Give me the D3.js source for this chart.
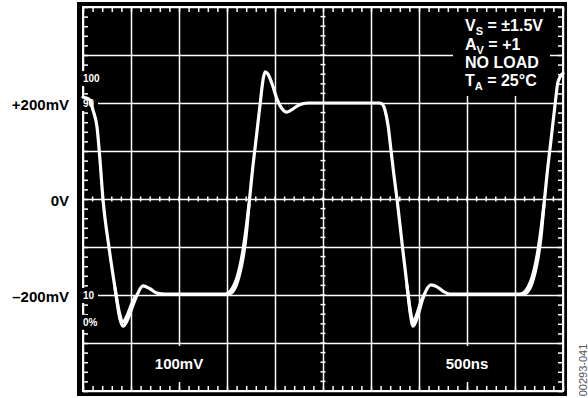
<!DOCTYPE html>
<html>
<head>
<meta charset="utf-8">
<script src="https://cdn.jsdelivr.net/npm/d3@7"></script>
<style>
  html, body { margin: 0; padding: 0; background: #fff; }
  svg { display: block; font-family: 'Liberation Sans', Arial, sans-serif; }
</style>
</head>
<body>
<svg id="chart" width="588" height="398"></svg>
<script>
// scope trace, [time ns, level mV]
const mainTrace = [
  [0, 212], [42, 210], [73, 206], [104, 185], [146, 150], [177, 81], [208, 0],
  [270, -100], [333, -185], [385, -250], [417, -265], [458, -254], [510, -227],
  [563, -200], [625, -181], [698, -187], [771, -196], [854, -198], [1510, -198],
  [1542, -196], [1594, -181], [1635, -154], [1667, -123], [1698, -79], [1729, -12],
  [1760, 50], [1802, 123], [1844, 196], [1875, 248], [1896, 265], [1927, 260],
  [1969, 240], [2021, 208], [2073, 188], [2125, 181], [2188, 188], [2250, 196],
  [2344, 200], [3083, 200], [3115, 198], [3146, 185], [3177, 154], [3208, 102],
  [3240, 48], [3271, 0], [3325, -95], [3375, -180], [3410, -240], [3438, -265],
  [3490, -242], [3542, -206], [3625, -179], [3688, -183], [3750, -192], [3823, -198],
  [4583, -198], [4615, -196], [4667, -181], [4708, -154], [4740, -123], [4771, -79],
  [4802, -12], [4833, 50], [4875, 123], [4917, 196], [4948, 244], [5000, 262]
]

// persistence traces that thicken the edges
const riseGhost1 = [
  [1495, -198], [1525, -194], [1565, -183], [1607, -162], [1640, -135],
  [1670, -102], [1700, -60], [1729, -12]
]
const riseGhost2 = [
  [4568, -198], [4598, -194], [4638, -183], [4680, -162], [4713, -135],
  [4743, -102], [4773, -60], [4802, -12]
]
const dipGhost1 = [
  [333, -185], [378, -236], [417, -256], [452, -246], [500, -222], [540, -204]
]
const dipGhost2 = [
  [3375, -180], [3408, -230], [3440, -256], [3478, -240], [3520, -214], [3560, -198]
]

const yLabelValues = [200, 0, -200]
const yLabelTexts = ['+200mV', '0V', '–200mV']

const scaleLabels = [
  { t: 1000, text: '100mV' },
  { t: 4000, text: '500ns' }
]

const refMarks = [
  { v: 252, text: '100' },
  { v: 200, text: '90' },
  { v: -200, text: '10' },
  { v: -256, text: '0%' }
]

const infoLines = [
  { main: 'V', sub: 'S', rest: ' = ±1.5V' },
  { main: 'A', sub: 'V', rest: ' = +1' },
  { main: 'NO LOAD', sub: '', rest: '' },
  { main: 'T', sub: 'A', rest: ' = 25°C' }
]

const svg = d3.select('#chart')

const x = d3.scaleLinear().domain([0, 5000]).range([83, 563])
const y = d3.scaleLinear().domain([-400, 400]).range([391, 7])

const x0 = x(0)
const x1 = x(5000)
const y0 = y(400)
const y1 = y(-400)

// black screen
svg.append('rect')
  .attr('x', 77).attr('y', 2)
  .attr('width', 490).attr('height', 394)
  .attr('fill', '#000')

// major grid via axes
const gridX = svg.append('g')
  .attr('transform', `translate(0,${y0})`)
  .call(d3.axisBottom(x).ticks(10).tickSize(y1 - y0).tickFormat(''))
const gridY = svg.append('g')
  .attr('transform', `translate(${x0},0)`)
  .call(d3.axisRight(y).ticks(8).tickSize(x1 - x0).tickFormat(''))
;[gridX, gridY].forEach((g) => {
  g.select('.domain').remove()
  g.selectAll('line').attr('stroke', '#fff').attr('stroke-width', 1.5)
})

// masks behind the info block and the scale labels
svg.append('rect')
  .attr('x', 453).attr('y', 9).attr('width', 97).attr('height', 87)
  .attr('fill', '#000')

svg.selectAll('.scale-mask')
  .data(scaleLabels)
  .enter()
  .append('rect')
  .attr('class', 'scale-mask')
  .attr('x', (d) => x(d.t) - 28)
  .attr('y', 346)
  .attr('width', 56)
  .attr('height', 36)
  .attr('fill', '#000')

// frame
svg.append('rect')
  .attr('x', x0).attr('y', y0)
  .attr('width', x1 - x0).attr('height', y1 - y0)
  .attr('fill', 'none')
  .attr('stroke', '#fff')
  .attr('stroke-width', 2)

// minor ticks on the frame
const minorX = x.ticks(50)
const minorY = y.ticks(40)
const frameAxes = [
  { axis: d3.axisBottom(x).tickValues(minorX), tr: `translate(0,${y0})` },
  { axis: d3.axisTop(x).tickValues(minorX), tr: `translate(0,${y1})` },
  { axis: d3.axisRight(y).tickValues(minorY), tr: `translate(${x0},0)` },
  { axis: d3.axisLeft(y).tickValues(minorY), tr: `translate(${x1},0)` }
]
frameAxes.forEach((f) => {
  const g = svg.append('g')
    .attr('transform', f.tr)
    .call(f.axis.tickSize(5).tickFormat(''))
  g.select('.domain').remove()
  g.selectAll('line').attr('stroke', '#fff').attr('stroke-width', 1.5)
})

// minor ticks on the centre cross
const cx = x(2500)
const cy = y(0)
svg.append('g')
  .selectAll('line')
  .data(minorX)
  .enter()
  .append('line')
  .attr('x1', (d) => x(d)).attr('x2', (d) => x(d))
  .attr('y1', cy - 2.5).attr('y2', cy + 2.5)
  .attr('stroke', '#fff').attr('stroke-width', 1.5)
svg.append('g')
  .selectAll('line')
  .data(minorY)
  .enter()
  .append('line')
  .attr('y1', (d) => y(d)).attr('y2', (d) => y(d))
  .attr('x1', cx - 2.5).attr('x2', cx + 2.5)
  .attr('stroke', '#fff').attr('stroke-width', 1.5)

// scope reference marks (100 / 90 / 10 / 0%)
const marks = svg.append('g')
marks.selectAll('rect')
  .data(refMarks)
  .enter()
  .append('rect')
  .attr('x', 80)
  .attr('y', (d) => y(d.v) - 7)
  .attr('width', 18)
  .attr('height', 15)
  .attr('fill', '#000')
marks.selectAll('text')
  .data(refMarks)
  .enter()
  .append('text')
  .attr('x', 83)
  .attr('y', (d) => y(d.v) + 4)
  .attr('fill', '#fff')
  .style('font-size', '10px')
  .style('font-weight', 'bold')
  .text((d) => d.text)

// scale labels inside the screen
svg.selectAll('.scale-label')
  .data(scaleLabels)
  .enter()
  .append('text')
  .attr('class', 'scale-label')
  .attr('x', (d) => x(d.t))
  .attr('y', 369)
  .attr('text-anchor', 'middle')
  .attr('fill', '#fff')
  .style('font-size', '15px')
  .style('font-weight', 'bold')
  .text((d) => d.text)

// info block
const info = svg.append('text')
  .attr('fill', '#fff')
  .style('font-size', '16px')
  .style('font-weight', 'bold')
infoLines.forEach((l, i) => {
  const line = info.append('tspan')
    .attr('x', 465)
    .attr('y', [31, 49.5, 68, 86][i])
  line.append('tspan').text(l.main)
  if (l.sub) {
    line.append('tspan')
      .attr('dy', 4)
      .style('font-size', '11px')
      .text(l.sub)
    line.append('tspan').attr('dy', -4).text(l.rest)
  }
})

// y labels outside the screen
svg.selectAll('.y-label')
  .data(yLabelValues)
  .enter()
  .append('text')
  .attr('class', 'y-label')
  .attr('x', 69)
  .attr('y', (d) => y(d) + 7)
  .attr('text-anchor', 'end')
  .attr('fill', '#000')
  .style('font-size', '15px')
  .style('font-weight', 'bold')
  .text((d, i) => yLabelTexts[i])

// figure id
svg.append('text')
  .attr('transform', 'translate(587,370) rotate(-90)')
  .attr('text-anchor', 'middle')
  .attr('fill', '#555')
  .style('font-size', '11px')
  .text('00293-041')

// waveform
const line = d3.line()
  .x((d) => x(d[0]))
  .y((d) => y(d[1]))
  .curve(d3.curveMonotoneX)

const traces = [mainTrace, riseGhost1, riseGhost2, dipGhost1, dipGhost2]
svg.append('g')
  .selectAll('path')
  .data(traces)
  .enter()
  .append('path')
  .attr('d', line)
  .attr('fill', 'none')
  .attr('stroke', '#fff')
  .attr('stroke-width', 3.2)
  .attr('stroke-linejoin', 'round')
  .attr('stroke-linecap', 'round')
</script>
</body>
</html>
